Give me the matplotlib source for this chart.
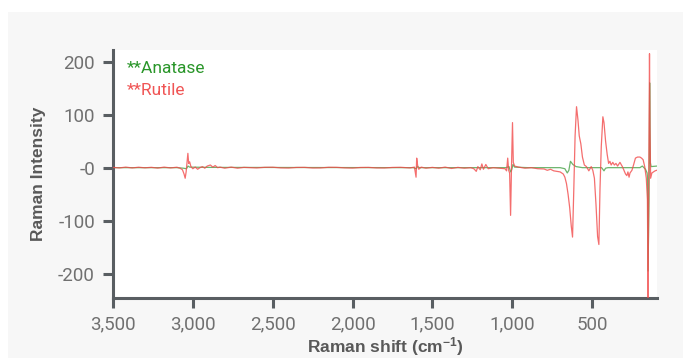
import matplotlib.pyplot as plt
from matplotlib.patches import Rectangle

# Raman spectra (wavenumber in cm-1, intensity)
rutile_x = [3500, 3460, 3420, 3380, 3340, 3300, 3260, 3220, 3180, 3140, 3100, 3080,
            3065, 3055, 3048, 3042, 3036, 3031, 3026, 3020, 3012, 3000, 2985, 2970,
            2955, 2940, 2925, 2910, 2890, 2875, 2860, 2845, 2830, 2800, 2760, 2720,
            2680, 2600, 2550, 2500, 2450, 2400, 2350, 2300, 2250, 2200, 2150, 2100,
            2050, 2000, 1950, 1900, 1850, 1800, 1750, 1700, 1640, 1612, 1602, 1598,
            1592, 1585, 1570, 1540, 1500, 1460, 1420, 1380, 1340, 1300, 1260, 1240,
            1225, 1215, 1200, 1190, 1180, 1165, 1150, 1120, 1080, 1045, 1035, 1028,
            1022, 1016, 1010, 1004, 998, 993, 985, 960, 920, 880, 840, 800,
            780, 760, 740, 720, 700, 690, 680, 670, 660, 650, 640, 630,
            622, 614, 606, 597, 588, 580, 570, 560, 548, 535, 520, 505,
            495, 485, 475, 465, 457, 450, 442, 432, 425, 415, 405, 396,
            388, 380, 370, 360, 350, 340, 325, 310, 300, 290, 282, 275,
            268, 262, 250, 240, 228, 215, 200, 190, 180, 170, 160, 153,
            149, 144, 140, 137, 133, 125, 115, 105, 95]
rutile_y = [0.5, -0.5, 1, -0.5, 0.8, -0.3, 0.6, -0.8, 1, -0.5, 0.8, -1,
            -4, -12, -20, -8, 10, 27, 8, 11, 2, -2, 1, -3,
            0, 2, -1, 3, 5, 1, 4, 0, 1, -1, 1, -1,
            0.5, -0.5, 0.6, 0.8, -0.4, -0.7, 0.4, 0.5, -0.6, -0.5, 0.7, 0.6,
            -0.4, -0.8, 0.3, 0.5, -0.5, -0.6, 0.4, 0.7, -0.5, 1, -18, 18,
            4, -3, 1, -1, 0.5, -1, 1, -1.5, 0.5, -1, 0, -2,
            -7, 2, -4, 7, -3, 6, -2, 0, -1, -2, -6, 18,
            -5, -10, -90, 5, 85, 10, 3, 1, -1, 0, -2, -2.5,
            -5, -3, -6, -7, -8, -10, -12, -18, -30, -50, -75, -110,
            -131, -40, 60, 115, 90, 60, 45, 20, 5, 2, -6, 2,
            -5, -20, -70, -130, -145, -40, 40, 96, 85, 50, 25, 8,
            12, 5, 10, 5, 8, 3, 10, 2, -5, -12, -15, -8,
            -18, -10, -5, 5, 18, 20, 20, 18, 15, 2, -20, -60,
            -245, 0, 215, 80, -20, -10, -8, -6, -5]

anatase_x = [3500, 3100, 3060, 3040, 3030, 3020, 2900, 1620, 1600, 1595, 1580, 1040,
             1020, 1010, 1003, 995, 985, 900, 700, 670, 655, 645, 635, 620,
             600, 560, 440, 425, 415, 400, 200, 185, 175, 165, 155, 152,
             149, 143, 139, 135, 130, 93]
anatase_y = [0, 0, -1, -2, 3, 1, 0.5, 0, -2, 2, 0, 0,
             2, -8, -4, 6, 1, 0, 0, -2, -10, -5, 12, 6,
             2, 0, 0, -6, -1, 0, 0, 3, 0, -3, -10, -20,
             -195, -60, 160, 10, 2, 3]

x_ticks = [3500, 3000, 2500, 2000, 1500, 1000, 500]
x_ticklabels = ["3,500", "3,000", "2,500", "2,000", "1,500", "1,000", "500"]
y_ticks = [200, 100, 0, -100, -200]
y_ticklabels = ["200", "100", "-0", "-100", "-200"]

plt.rcParams['font.family'] = ['Liberation Sans', 'DejaVu Sans']
plt.rcParams['mathtext.default'] = 'regular'

spine_col = '#595e62'
tick_col = '#707070'
green = '#3c9c3c'
red = '#f24a4a'

fig = plt.figure(figsize=(6.83, 3.58), dpi=100)
fig.patch.set_facecolor('white')
fig.patches.append(Rectangle((8 / 683, 0), 1, 1 - 12 / 358, transform=fig.transFigure,
                             facecolor='#f7f7f7', edgecolor='none', zorder=-10))

ax = fig.add_axes([113 / 683, 60.5 / 358, 544 / 683, 247.5 / 358])
ax.set_facecolor('white')

ax.plot(anatase_x, anatase_y, color=green, lw=0.9, alpha=0.75, zorder=2)
ax.plot(rutile_x, rutile_y, color=red, lw=0.9, alpha=0.8, zorder=3)

ax.set_xlim(3500, 93)
ax.set_ylim(-245, 222)
ax.set_xticks(x_ticks)
ax.set_xticklabels(x_ticklabels)
ax.set_yticks(y_ticks)
ax.set_yticklabels(y_ticklabels)

for s in ['top', 'right']:
    ax.spines[s].set_visible(False)
for s in ['left', 'bottom']:
    ax.spines[s].set_color(spine_col)
    ax.spines[s].set_linewidth(2.2)
ax.tick_params(direction='out', length=7, width=2.2, color=spine_col,
               labelcolor=tick_col, pad=6)
for lbl in ax.get_xticklabels() + ax.get_yticklabels():
    lbl.set_family(['Roboto', 'DejaVu Sans'])
    lbl.set_fontsize(13.5)

ax.set_xlabel(r"Raman shift (cm$^{-1}$)", fontsize=12.5, fontweight='bold',
              color='#595959', labelpad=1)
ax.set_ylabel("Raman Intensity", fontsize=12.5, fontweight='bold',
              color='#595959', labelpad=9)

ax.text(0.025, 0.927, "**Anatase", transform=ax.transAxes, color='#2a962a',
        fontsize=12.5, va='center', ha='left', family=['Roboto', 'DejaVu Sans'])
ax.text(0.025, 0.838, "**Rutile", transform=ax.transAxes, color='#f05555',
        fontsize=12.5, va='center', ha='left', family=['Roboto', 'DejaVu Sans'])

fig.savefig('out.png', dpi=100, facecolor=fig.get_facecolor())
